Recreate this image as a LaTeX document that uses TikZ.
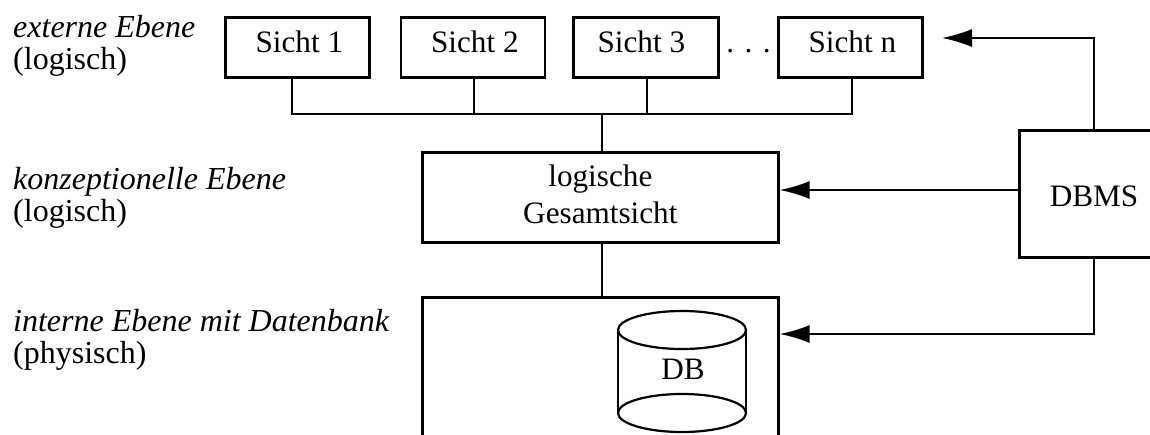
\documentclass[tikz,border=0pt]{standalone}
\usepackage{fontspec}
\setmainfont{Liberation Serif}
\usetikzlibrary{arrows.meta}
\newcommand{\boxfont}{\fontsize{31.2}{37}\selectfont}
\newcommand{\labfont}{\fontsize{32}{32}\selectfont}
\newcommand{\up}[2][4pt]{\raisebox{10.5pt}{\hspace{#1}#2}}
\tikzset{
  x=1pt,y=-1pt,
  box/.style={draw,line width=2.7pt,inner sep=0pt,anchor=north west,font=\boxfont,align=center},
  viewbox/.style={box,minimum width=144pt,minimum height=60pt},
  conn/.style={line width=1.8pt},
  arr/.style={line width=1.8pt,-{Latex[length=30pt,width=18pt]}},
  cyl/.style={line width=2.2pt},
  plain/.style={inner sep=0pt,font=\boxfont},
  lab/.style={anchor=base west,inner sep=0pt,font=\labfont}
}
\begin{document}
\begin{tikzpicture}
\useasboundingbox (0,0) rectangle (1150,434);
\begin{scope}
\clip (0,0) rectangle (1150,434);
\node[viewbox] (s1) at (224,16) {\up{Sicht 1}};
\node[viewbox] (s2) at (399.5,16) {\up{Sicht 2}};
\node[viewbox,minimum width=145pt] (s3) at (572,16) {\up[-9pt]{Sicht 3}};
\node[viewbox] (sn) at (777,16) {\up{Sicht n}};
\node[anchor=base,plain] (dots) at (748.5,52) {. . .};
\node[box,minimum width=356pt,minimum height=90pt] (lg) at (421,151) {\parbox{300pt}{\centering logische\\Gesamtsicht\par\vspace{6pt}}};
\node[box,minimum width=200pt,minimum height=127pt] (dbms) at (1018,129) {};
\node[plain] (dbmstext) at (1094,196) {DBMS};
\node[box,minimum width=356pt,minimum height=200pt] (idb) at (421,296) {};
\coordinate (cl) at (618,330);
\coordinate (cr) at (746,330);
\coordinate (bl) at (618,413);
\coordinate (br) at (746,413);
\draw[cyl] (cl) -- (bl) (cr) -- (br);
\draw[cyl] (682,330) ellipse [x radius=64,y radius=19];
\draw[cyl] (682,413) ellipse [x radius=64,y radius=19];
\node[plain] (db) at (683,369) {DB};
\coordinate (b1) at (292,114);
\coordinate (b2) at (474,114);
\coordinate (b3) at (647,114);
\coordinate (bn) at (852,114);
\coordinate (bm) at (602,114);
\draw[conn] (s1.south -| b1) -- (b1) -- (bn) -- (sn.south -| bn);
\draw[conn] (s2.south -| b2) -- (b2);
\draw[conn] (s3.south -| b3) -- (b3);
\draw[conn] (bm) -- (lg.north -| bm);
\draw[conn] (lg.south -| bm) -- (idb.north -| bm);
\coordinate (a1) at (1094,38);
\coordinate (a1t) at (942,38);
\coordinate (a2) at (1018,190);
\coordinate (a3) at (1094,334);
\draw[arr] (dbms.north -| a1) -- (a1) -- (a1t);
\draw[arr] (dbms.west |- a2) -- (lg.east |- a2);
\draw[arr] (dbms.south -| a3) -- (a3) -- (idb.east |- a3);
\end{scope}
\node[lab] (l1) at (13,37) {\itshape externe Ebene};
\node[lab] (l2) at (13,69) {(logisch)};
\node[lab] (l3) at (13,189) {\itshape konzeptionelle Ebene};
\node[lab] (l4) at (13,221) {(logisch)};
\node[lab] (l5) at (13,331) {\itshape interne Ebene mit Datenbank};
\node[lab] (l6) at (13,363) {(physisch)};
\end{tikzpicture}
\end{document}
